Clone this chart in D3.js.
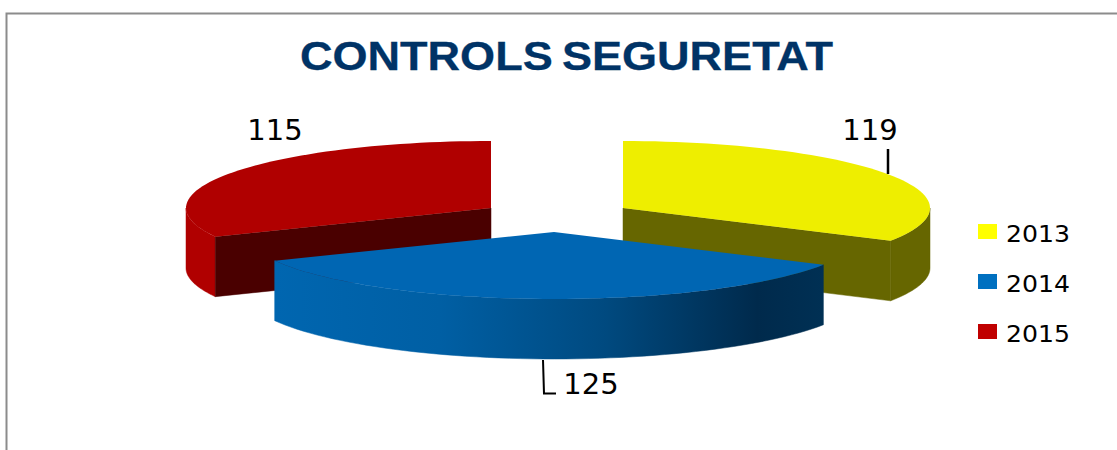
<!DOCTYPE html>
<html>
<head>
<meta charset="utf-8">
<script src="https://cdnjs.cloudflare.com/ajax/libs/d3/7.8.5/d3.min.js"></script>
<style>
html,body{margin:0;padding:0;background:#fff;overflow:hidden}
svg{display:block}
</style>
</head>
<body>
<svg id="c" width="1117" height="450"></svg>
<script>
const title = "CONTROLS SEGURETAT";
const categories = ["2013", "2014", "2015"];
const values = [119, 125, 115];

const svg = d3.select("#c");
const RY = 67, DEPTH = 60;

// placement of each exploded slice and its styling, by category
const layout = {
  "2013": {cx: 623, cy: 208, rx: 307, top: "#EEEE00", wall: "#666600", rim: "#666600", legend: "#FFFF00", lx: 870, ly: 140},
  "2014": {cx: 554, cy: 232, rx: 309, top: "#0066B3", wall: "#0066B3", rim: "url(#blueRim)", legend: "#0070C0", lx: 591, ly: 394},
  "2015": {cx: 491, cy: 208, rx: 305, top: "#B00000", wall: "#4A0000", rim: "#B00000", legend: "#C00000", lx: 275, ly: 140}
};

const defs = svg.append("defs");
const grad = defs.append("linearGradient").attr("id", "blueRim")
  .attr("gradientUnits", "userSpaceOnUse").attr("x1", 275).attr("x2", 823).attr("y1", 0).attr("y2", 0);
[[0, "#0066B0"], [0.3, "#005FA4"], [0.6, "#004A80"], [0.88, "#002A4C"], [1, "#003054"]]
  .forEach(([o, c]) => grad.append("stop").attr("offset", o).attr("stop-color", c));

// frame
svg.append("path").attr("d", "M6.5,450V13.5H1117").attr("fill", "none").attr("stroke", "#8C8C8C").attr("stroke-width", 2);

// title
svg.append("text").text(title).attr("x", 300).attr("y", 70)
  .attr("font-family", "Liberation Sans").attr("font-weight", "bold").attr("font-size", 41)
  .attr("fill", "#003366").attr("stroke", "#003366").attr("stroke-width", 0.3)
  .attr("word-spacing", -3).attr("textLength", 533).attr("lengthAdjust", "spacingAndGlyphs");

const pie = d3.pie().sort(null).startAngle(0).endAngle(2 * Math.PI);
const arcs = pie(values).map((a, i) => ({...a, cat: categories[i], ...layout[categories[i]]}));

function projector(a) {
  const sx = d3.scaleLinear().domain([-1, 1]).range([a.cx - a.rx, a.cx + a.rx]);
  const sy = d3.scaleLinear().domain([-1, 1]).range([a.cy - RY, a.cy + RY]);
  return (t, dz = 0) => [sx(Math.sin(t)), sy(-Math.cos(t)) + dz];
}
const line = d3.line();
const sweep = (t0, t1) => d3.range(0, 61).map(k => t0 + (t1 - t0) * k / 60);

function drawSlice(a) {
  const p = projector(a);
  const g = svg.append("g");
  const apex = [a.cx, a.cy];
  const apexLow = [a.cx, a.cy + DEPTH];

  // outer rim: only the part that faces the viewer (angles between 90° and 270°)
  const r0 = Math.max(a.startAngle, Math.PI / 2), r1 = Math.min(a.endAngle, 3 * Math.PI / 2);
  if (r1 > r0) {
    const upper = sweep(r0, r1).map(t => p(t));
    const lower = sweep(r1, r0).map(t => p(t, DEPTH));
    g.append("path").attr("d", line(upper.concat(lower)) + "Z").attr("fill", a.rim)
      .attr("stroke", a.rim).attr("stroke-width", 0.5);
  }
  // radial cut wall facing the viewer
  if (a.cat !== "2014") {
    const t = a.cat === "2013" ? a.endAngle : a.startAngle;
    g.append("path").attr("d", line([apex, p(t), p(t, DEPTH), apexLow]) + "Z").attr("fill", a.wall)
      .attr("stroke", a.wall).attr("stroke-width", 0.5);
  }
  // top face
  g.append("path").attr("d", line([apex].concat(sweep(a.startAngle, a.endAngle).map(t => p(t)))) + "Z").attr("fill", a.top);
}
// back slices first, then the front one
[arcs[2], arcs[0], arcs[1]].forEach(drawSlice);

// data labels
const labelFont = "DejaVu Sans";
svg.append("g").selectAll("text").data(arcs).join("text")
  .text(d => d.value)
  .attr("x", d => d.lx).attr("y", d => d.ly)
  .attr("text-anchor", "middle").attr("font-family", labelFont).attr("font-size", 29).attr("fill", "#000");

// leader lines
svg.append("path").attr("d", "M888,149V174").attr("fill", "none").attr("stroke", "#000").attr("stroke-width", 2.5);
svg.append("path").attr("d", "M543,360L544,393.5H556").attr("fill", "none").attr("stroke", "#000").attr("stroke-width", 2);

// legend
const legendY = d3.scalePoint().domain(categories).range([241.5, 341.5]);
const legend = svg.append("g").selectAll("g").data(categories).join("g");
legend.append("rect").attr("x", 978).attr("y", d => legendY(d) - 17.5).attr("width", 19).attr("height", 15)
  .attr("fill", d => layout[d].legend);
legend.append("text").text(d => d).attr("x", 1006).attr("y", d => legendY(d))
  .attr("font-family", labelFont).attr("font-size", 23.5).attr("fill", "#000")
  .attr("textLength", 64).attr("lengthAdjust", "spacingAndGlyphs");
</script>
</body>
</html>
